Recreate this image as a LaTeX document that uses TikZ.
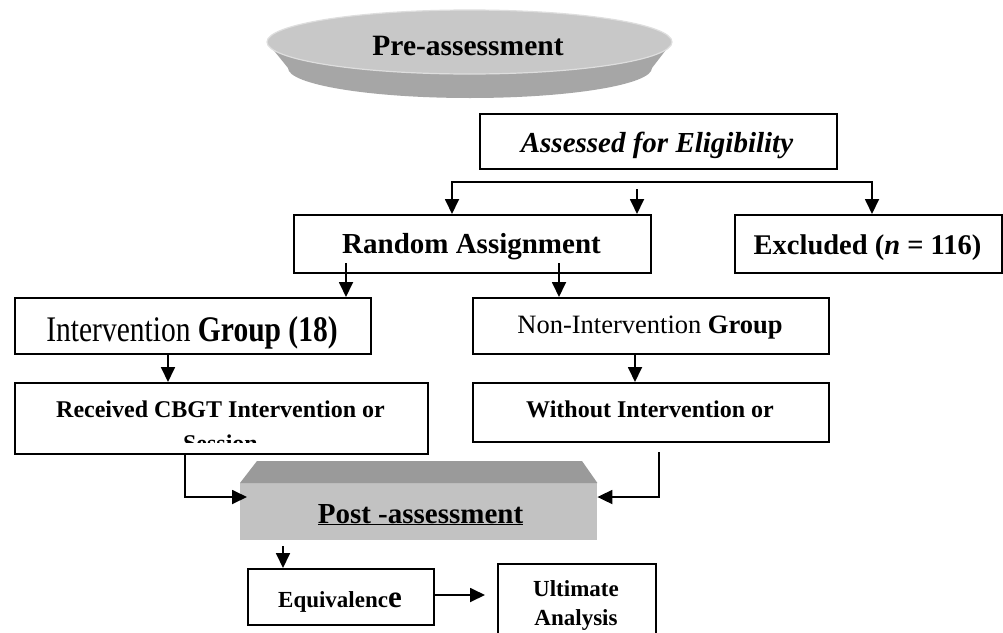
\documentclass[tikz,border=0pt]{standalone}
\usepackage{fontspec}
\setmainfont{Liberation Serif}
\usetikzlibrary{arrows.meta,calc}
\definecolor{ptop}{HTML}{C8C8C8}
\definecolor{prim}{HTML}{DEDEDE}
\definecolor{pside}{HTML}{A6A6A6}
\definecolor{qtop}{HTML}{9A9A9A}
\definecolor{qface}{HTML}{C2C2C2}
\tikzset{
  box/.style={draw=black, line width=1.8pt, fill=white, anchor=north west, inner sep=0pt},
  lbl/.style={inner sep=0pt, anchor=base},
  conn/.style={line width=1.8pt, line join=miter},
  arr/.style={conn, -{Triangle[width=14pt,length=15pt]}},
  darr/.style={conn, {Triangle[width=14pt,length=15pt]}-{Triangle[width=14pt,length=15pt]}}
}
\newcommand{\fsz}[1]{\fontsize{#1}{#1}\selectfont}
\begin{document}
\begin{tikzpicture}[x=1pt,y=-1pt]
\useasboundingbox (0,0) rectangle (1003,632);
\fill[white] (0,0) rectangle (1003,632);

% Pre-assessment disk
\fill[pside] (267,42) -- (288,68) arc[start angle=180, end angle=0, x radius=182, y radius=30] -- (672,42) -- cycle;
\fill[ptop] (469.5,42) ellipse [x radius=202.5, y radius=32];
\draw[prim, line width=1.2pt] (469.5,42) ellipse [x radius=202.5, y radius=32];
\node[lbl] (tpre) at (468,55) {\fsz{29.5}\bfseries Pre-assessment};

% boxes
\node[box, minimum width=357pt, minimum height=55pt] (assess) at (479,113) {};
\node[lbl] (tassess) at (657,152) {\fsz{29}\bfseries\itshape Assessed for Eligibility};

\node[box, minimum width=357pt, minimum height=58pt] (rand) at (293,214) {};
\node[lbl] (trand) at (471.5,253) {\fsz{29}\bfseries Random Assignment};

\node[box, minimum width=267pt, minimum height=58pt] (excl) at (734,214) {};
\node[lbl] (texcl) at (867.5,254) {\fsz{28.5}\bfseries Excluded (\textit{n} = 116)};

\node[box, minimum width=356pt, minimum height=56pt] (inter) at (14,297) {};
\node[lbl] (tinter) at (192,341) {\scalebox{0.82}[1]{\fsz{36}Intervention \textbf{Group (18)}}};

\node[box, minimum width=356pt, minimum height=56pt] (non) at (472,297) {};
\node[lbl] (tnon) at (650,333) {\fsz{26.5}Non-Intervention \textbf{Group}};

\node[box, minimum width=413pt, minimum height=71pt] (recv) at (14,382) {};
\node[lbl] (trecv) at (220.5,417) {\fsz{24}\bfseries Received CBGT Intervention or};
\begin{scope}
\clip (14,382) rectangle (427,442);
\node[lbl] (tsess) at (220.5,451) {\fsz{24}\bfseries Session};
\end{scope}

\node[box, minimum width=356pt, minimum height=59pt] (without) at (472,382) {};
\node[lbl] (twithout) at (650,417) {\fsz{24}\bfseries Without Intervention or};

% Post-assessment block
\node[anchor=north west, inner sep=0pt, fill=qface, minimum width=357pt, minimum height=57pt] (post) at (240,483) {};
\fill[qtop] (257,461) -- (582,461) -- (post.north east) -- (post.north west) -- cycle;
\node[lbl] (tpost) at (420.5,523) {\fsz{29}\bfseries\underline{Post -assessment}};

\node[box, minimum width=186pt, minimum height=56pt] (equiv) at (247,568) {};
\node[lbl] (tequiv) at (340,607) {\fsz{23}\bfseries Equivalenc{\fsz{31}e}};

\node[box, minimum width=158pt, minimum height=72pt] (ult) at (497,563) {};
\node[lbl] (tult1) at (576,596) {\fsz{23}\bfseries Ultimate};
\node[lbl] (tult2) at (576,625) {\fsz{23}\bfseries Analysis};

% connectors
\coordinate (bL) at (452,182);
\coordinate (bR) at (872,182);
\draw[darr] (bL |- rand.north) -- (bL) -- (bR) -- (bR |- excl.north);
\coordinate (mA) at (637,189);
\draw[arr] (mA) -- (mA |- rand.north);

\coordinate (r1) at (346,263);
\coordinate (r2) at (559,263);
\draw[arr] (r1) -- (r1 |- inter.north);
\draw[arr] (r2) -- (r2 |- non.north);

\coordinate (i1) at (168,353);
\coordinate (n1) at (635,353);
\draw[arr] (i1 |- inter.south) -- (i1 |- recv.north);
\draw[arr] (n1 |- non.south) -- (n1 |- without.north);

\coordinate (lc) at (185,497);
\coordinate (lt) at (247,497);
\draw[arr] (lc |- recv.south) -- (lc) -- (lt);
\coordinate (rs) at (659,452);
\coordinate (rc) at (659,497);
\draw[arr] (rs) -- (rc) -- (rc -| post.east);

\coordinate (pe) at (283,546);
\draw[arr] (pe) -- (pe |- equiv.north);

\coordinate (et) at (485,595);
\draw[arr] (equiv.east |- et) -- (et);
\end{tikzpicture}
\end{document}
